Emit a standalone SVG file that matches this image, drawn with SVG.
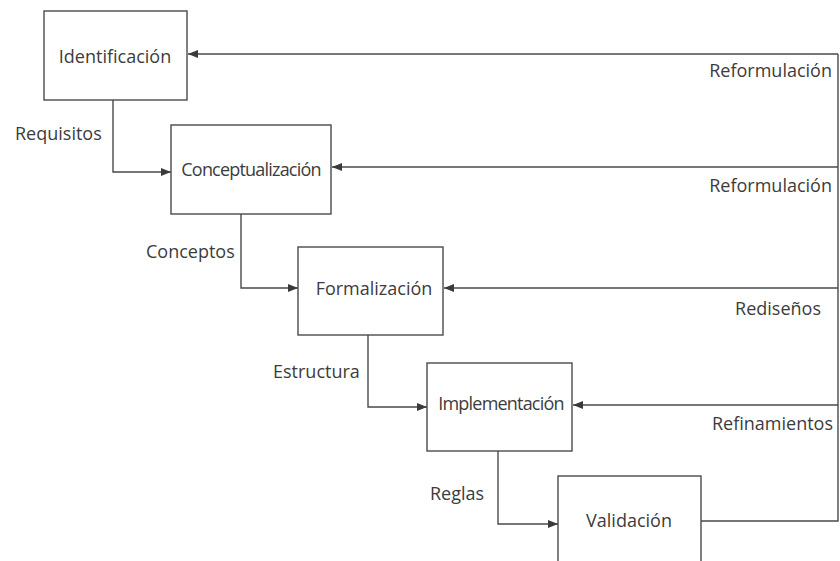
<svg xmlns="http://www.w3.org/2000/svg" width="840" height="561" viewBox="0 0 840 561">
  <defs>
    <marker id="arrow" viewBox="0 0 10 8" refX="10" refY="4" markerWidth="10" markerHeight="8" markerUnits="userSpaceOnUse" orient="auto">
      <path d="M0,0 L10,4 L0,8 Z" fill="#3a3a3a"/>
    </marker>
  </defs>
  <style>
    .box { fill: #ffffff; stroke: #4a4a4a; stroke-width: 1.4; }
    .lbl { font-family: "Open Sans", "Noto Sans", sans-serif; font-size: 18px; fill: #3c3c3c; }
    .tight { letter-spacing: -0.8px; }
    .mid { text-anchor: middle; }
    .end { text-anchor: end; }
    .wire { fill: none; stroke: #4a4a4a; stroke-width: 1.4; }
    .arr { marker-end: url(#arrow); }
  </style>
  <rect width="840" height="561" fill="#ffffff"/>

  <!-- forward and feedback connectors -->
  <g id="connectors">
    <path class="wire arr" d="M113,100 V172 H171"/>
    <path class="wire arr" d="M241,214 V288 H298"/>
    <path class="wire arr" d="M368,335 V407 H427"/>
    <path class="wire arr" d="M498,451 V524 H558"/>
    <path class="wire" d="M701,521 H838 V54"/>
    <path class="wire arr" d="M838,54 H188"/>
    <path class="wire arr" d="M838,167 H332"/>
    <path class="wire arr" d="M838,288 H444"/>
    <path class="wire arr" d="M838,405 H573"/>
    <text class="lbl" x="15" y="140">Requisitos</text>
    <text class="lbl" x="146" y="258">Conceptos</text>
    <text class="lbl" x="273" y="378">Estructura</text>
    <text class="lbl" x="430" y="500">Reglas</text>
    <text class="lbl end" x="832" y="77">Reformulación</text>
    <text class="lbl end" x="832" y="192">Reformulación</text>
    <text class="lbl end" x="821" y="315">Rediseños</text>
    <text class="lbl end" x="833" y="430">Refinamientos</text>
  </g>

  <g id="identificacion">
    <rect class="box" x="44" y="11" width="143" height="89"/>
    <text class="lbl mid" x="115" y="63">Identificación</text>
  </g>
  <g id="conceptualizacion">
    <rect class="box" x="171" y="125" width="160" height="89"/>
    <text class="lbl mid tight" x="251" y="176">Conceptualización</text>
  </g>
  <g id="formalizacion">
    <rect class="box" x="298" y="247" width="145" height="88"/>
    <text class="lbl mid" x="374" y="295">Formalización</text>
  </g>
  <g id="implementacion">
    <rect class="box" x="427" y="363" width="145" height="88"/>
    <text class="lbl mid tight" x="501" y="410">Implementación</text>
  </g>
  <g id="validacion">
    <rect class="box" x="558" y="476" width="143" height="100"/>
    <text class="lbl mid" x="629" y="527">Validación</text>
  </g>
</svg>
